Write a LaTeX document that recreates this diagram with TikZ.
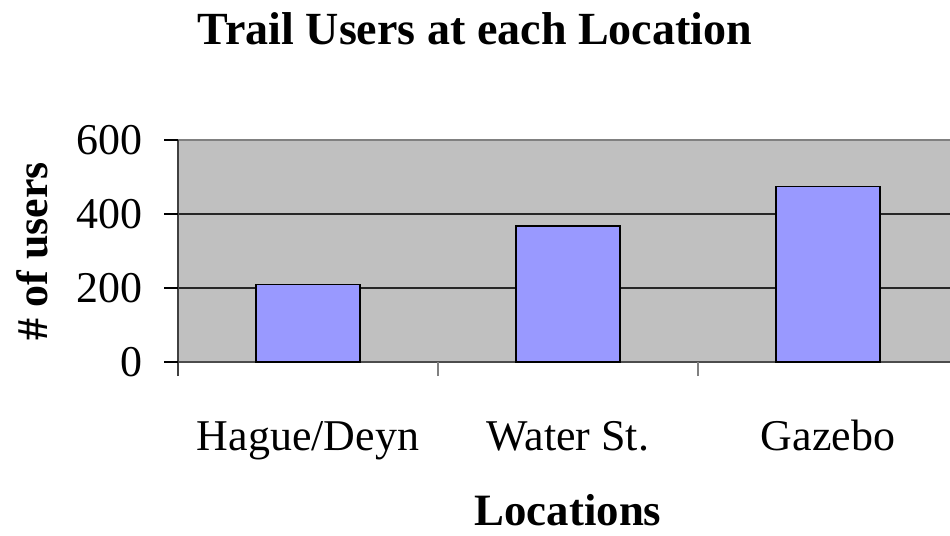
\documentclass[tikz,border=0pt]{standalone}
\usepackage{fontspec}
\setmainfont{Liberation Serif}
\usepackage{xcolor}
\definecolor{plotgray}{HTML}{C0C0C0}
\definecolor{barblue}{HTML}{9999FF}
\definecolor{axisgray}{HTML}{808080}

\begin{document}
\begin{tikzpicture}[font=\fontsize{25}{30}\selectfont,line cap=butt,
  bar/.style={draw=black,fill=barblue,line width=0.85pt},
  gridline/.style={black!85,line width=0.6pt},
  ticklabel/.style={inner sep=0pt}]
\useasboundingbox (0,0) rectangle (19,10.7);
\begin{scope}
\clip (0,0) rectangle (19,10.7);
\fill[plotgray] (3.56,3.46) rectangle (19.16,7.9);
\draw[gridline] (3.56,4.94) -- (19.16,4.94);
\draw[gridline] (3.56,6.42) -- (19.16,6.42);
\draw[axisgray,line width=0.7pt] (3.56,7.9) -- (19.16,7.9);
\draw[black!70,line width=0.7pt] (3.56,3.46) -- (19.16,3.46);
\end{scope}
% y axis and ticks
\draw[black!75,line width=0.7pt] (3.56,3.18) -- (3.56,7.9);
\draw[line width=0.6pt] (3.28,3.46) -- (3.56,3.46);
\draw[line width=0.6pt] (3.28,4.94) -- (3.56,4.94);
\draw[line width=0.6pt] (3.28,6.42) -- (3.56,6.42);
\draw[line width=0.6pt] (3.28,7.9) -- (3.56,7.9);
\node[ticklabel,anchor=east] (y0) at (2.86,3.46) {0};
\node[ticklabel,anchor=east] (y200) at (2.86,4.94) {200};
\node[ticklabel,anchor=east] (y400) at (2.86,6.42) {400};
\node[ticklabel,anchor=east] (y600) at (2.86,7.9) {600};
% x ticks
\draw[axisgray,line width=0.7pt] (8.76,3.18) -- (8.76,3.46);
\draw[axisgray,line width=0.7pt] (13.96,3.18) -- (13.96,3.46);
% bars
\draw[bar] (5.12,3.46) rectangle (7.2,5.014);
\draw[bar] (10.32,3.46) rectangle (12.4,6.183);
\draw[bar] (15.52,3.46) rectangle (17.6,6.975);
% category labels
\node[anchor=base] (hague) at (6.16,1.7) {Hague/Deyn};
\node[anchor=base] (water) at (11.36,1.7) {Water St.};
\node[anchor=base] (gazebo) at (16.56,1.7) {Gazebo};
% titles
\node[anchor=base,font=\fontsize{26.2}{30}\selectfont\bfseries] (title) at (9.5,9.8) {Trail Users at each Location};
\node[anchor=base,font=\fontsize{25.5}{30}\selectfont\bfseries] (xtitle) at (11.36,0.2) {Locations};
\node[anchor=base,rotate=90,font=\fontsize{25}{30}\selectfont\bfseries] (ytitle) at (0.94,5.68) {\# of users};
\end{tikzpicture}
\end{document}
